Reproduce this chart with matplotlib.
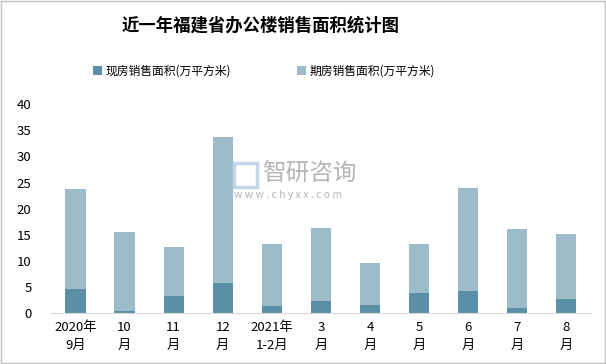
import numpy as np
import matplotlib.pyplot as plt
from matplotlib.patches import Rectangle

plt.rcParams['font.family'] = ['Noto Sans CJK SC', 'DejaVu Sans']

months = ['2020年\n9月', '10\n月', '11\n月', '12\n月', '2021年\n1-2月', '3\n月', '4\n月', '5\n月', '6\n月', '7\n月', '8\n月']
total = [23.8, 15.5, 12.6, 33.7, 13.2, 16.3, 9.6, 13.2, 23.9, 16.1, 15.1]
xianfang = [4.6, 0.4, 3.3, 5.7, 1.3, 2.3, 1.5, 3.8, 4.2, 1.0, 2.7]
qifang = [t - x for t, x in zip(total, xianfang)]

dark = '#5b8fa8'
light = '#9dbcca'

fig = plt.figure(figsize=(6.06, 3.64), dpi=100)
ax = fig.add_axes([0.084, 0.140, 0.891, 0.5735])

x = np.arange(len(months))
ax.bar(x, xianfang, width=0.41, color=dark, label='现房销售面积(万平方米)')
ax.bar(x, qifang, width=0.41, bottom=xianfang, color=light, label='期房销售面积(万平方米)')

ax.set_xlim(-0.5, len(months) - 0.5)
ax.set_ylim(0, 40)
ax.set_yticks(range(0, 41, 5))
ax.set_xticks(x)
ax.set_xticklabels(months, fontsize=9.5, linespacing=1.5)
ax.tick_params(axis='y', labelsize=9.5, length=0, pad=14)
ax.tick_params(axis='x', length=0, pad=6)
for s in ['top', 'right', 'left']:
    ax.spines[s].set_visible(False)
ax.spines['bottom'].set_color('#d9d9d9')

# watermark
fig.add_artist(Rectangle((0.386, 0.485), 0.038, 0.068, transform=fig.transFigure,
                         fill=False, edgecolor='#c5d5ea', linewidth=2.5))
fig.text(0.433, 0.52, '智研咨询', fontsize=17, color='#b5b5b5', va='center')
fig.text(0.386, 0.463, 'w w w . c h y x x . c o m', fontsize=7.5, color='#b5b5b5', va='center')

fig.text(0.43, 0.93, '近一年福建省办公楼销售面积统计图', fontsize=12.5, fontweight='bold',
         ha='center', va='center')

fig.legend(loc='center', bbox_to_anchor=(0.436, 0.805), ncol=2, frameon=False,
           fontsize=8.5, handlelength=0.75, handleheight=0.75, columnspacing=5.6, handletextpad=0.3)

fig.add_artist(Rectangle((0.001, 0.002), 0.997, 0.995, transform=fig.transFigure,
                         fill=False, edgecolor='#bfbfbf', linewidth=1))

fig.savefig('out.png', dpi=100)
